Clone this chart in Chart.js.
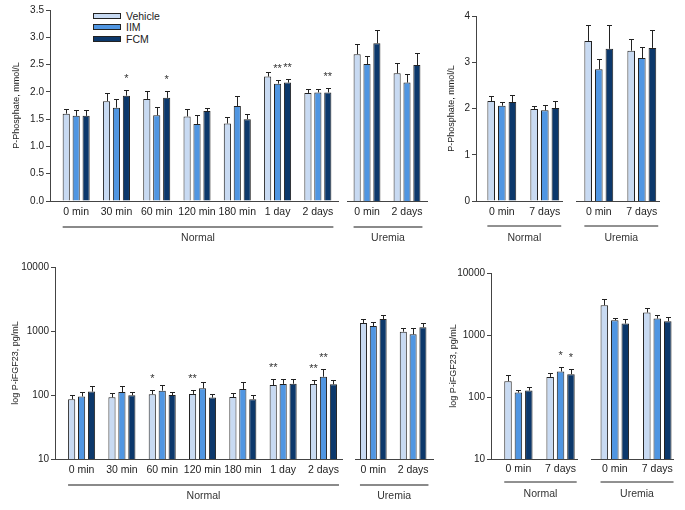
<!DOCTYPE html>
<html>
<head>
<meta charset="utf-8">
<script src="https://cdn.jsdelivr.net/npm/chart.js@4/dist/chart.umd.min.js"></script>
<style>
  body { margin: 0; background: #fff; }
  #fig { position: relative; width: 685px; height: 510px; font-family: "Liberation Sans", Arial, sans-serif; }
  #fig canvas { position: absolute; }
  #legend { position: absolute; left: 93px; top: 10px; font-size: 10.5px; color: #222; }
  #legend div { display: flex; align-items: center; height: 11.5px; }
  #legend span.sw { display: inline-block; width: 26px; height: 4px; border: 1px solid #222; margin-right: 5px; }
</style>
</head>
<body>
<div id="fig">
  <div id="legend"></div>
  <canvas id="aNormal" width="345" height="246" style="left:0;top:0"></canvas>
  <canvas id="aUremia" width="95" height="246" style="left:340px;top:0"></canvas>
  <canvas id="bNormal" width="131" height="246" style="left:436px;top:0"></canvas>
  <canvas id="bUremia" width="95" height="246" style="left:570px;top:0"></canvas>
  <canvas id="cNormal" width="347" height="254" style="left:0;top:250px"></canvas>
  <canvas id="cUremia" width="90" height="254" style="left:348px;top:250px"></canvas>
  <canvas id="dNormal" width="142" height="254" style="left:440px;top:250px"></canvas>
  <canvas id="dUremia" width="99" height="254" style="left:584px;top:250px"></canvas>
</div>
<script>
// series
const seriesNames = ['Vehicle', 'IIM', 'FCM'];
const seriesColors = ['#c8daf2', '#5096e2', '#0c386b'];

// --- A: P-Phosphate, acute study ---
const aNormalLabels = ['0 min', '30 min', '60 min', '120 min', '180 min', '1 day', '2 days'];
const aNormalVehicle = [1.60, 1.83, 1.87, 1.55, 1.42, 2.28, 1.98];
const aNormalVehicleUpper = [1.68, 1.97, 2.02, 1.69, 1.54, 2.37, 2.06];
const aNormalIIM = [1.56, 1.71, 1.57, 1.41, 1.74, 2.15, 1.99];
const aNormalIIMUpper = [1.66, 1.86, 1.72, 1.58, 1.93, 2.22, 2.06];
const aNormalFCM = [1.56, 1.93, 1.89, 1.65, 1.50, 2.17, 1.99];
const aNormalFCMUpper = [1.67, 2.04, 2.01, 1.71, 1.60, 2.24, 2.07];
const aNormalStars = [[2, 1, '*'], [2, 2, '*'], [1, 5, '**'], [2, 5, '**'], [2, 6, '**']];

const aUremiaLabels = ['0 min', '2 days'];
const aUremiaVehicle = [2.69, 2.34];
const aUremiaVehicleUpper = [2.88, 2.53];
const aUremiaIIM = [2.51, 2.17];
const aUremiaIIMUpper = [2.66, 2.33];
const aUremiaFCM = [2.89, 2.49];
const aUremiaFCMUpper = [3.14, 2.72];

// --- B: P-Phosphate, 7 day study ---
const bLabels = ['0 min', '7 days'];
const bNormalVehicle = [2.16, 1.99];
const bNormalVehicleUpper = [2.26, 2.06];
const bNormalIIM = [2.06, 1.96];
const bNormalIIMUpper = [2.15, 2.07];
const bNormalFCM = [2.14, 2.01];
const bNormalFCMUpper = [2.29, 2.17];

const bUremiaVehicle = [3.46, 3.25];
const bUremiaVehicleUpper = [3.81, 3.50];
const bUremiaIIM = [2.85, 3.09];
const bUremiaIIMUpper = [3.06, 3.32];
const bUremiaFCM = [3.29, 3.31];
const bUremiaFCMUpper = [3.81, 3.69];

// --- C: P-iFGF23, acute study ---
const cNormalLabels = ['0 min', '30 min', '60 min', '120 min', '180 min', '1 day', '2 days'];
const cNormalVehicle = [86, 92, 103, 104, 93, 143, 149];
const cNormalVehicleUpper = [100, 109, 120, 120, 106, 180, 170];
const cNormalIIM = [95, 111, 117, 127, 124, 149, 193];
const cNormalIIMUpper = [113, 138, 145, 158, 158, 180, 252];
const cNormalFCM = [113, 99, 100, 91, 86, 150, 147];
const cNormalFCMUpper = [140, 113, 113, 103, 100, 180, 173];
const cNormalStars = [[0, 2, '*'], [0, 3, '**'], [0, 5, '**'], [0, 6, '**'], [1, 6, '**']];

const cUremiaLabels = ['0 min', '2 days'];
const cUremiaVehicle = [1334, 975];
const cUremiaVehicleUpper = [1523, 1102];
const cUremiaIIM = [1197, 887];
const cUremiaIIMUpper = [1367, 1126];
const cUremiaFCM = [1540, 1142];
const cUremiaFCMUpper = [1758, 1334];

// --- D: P-iFGF23, 7 day study ---
const dLabels = ['0 min', '7 days'];
const dNormalVehicle = [180, 211];
const dNormalVehicleUpper = [230, 248];
const dNormalIIM = [118, 258];
const dNormalIIMUpper = [128, 310];
const dNormalFCM = [127, 233];
const dNormalFCMUpper = [147, 281];
const dNormalStars = [[1, 1, '*'], [2, 1, '*']];

const dUremiaVehicle = [3020, 2300];
const dUremiaVehicleUpper = [3740, 2770];
const dUremiaIIM = [1730, 1840];
const dUremiaIIMUpper = [1910, 2080];
const dUremiaFCM = [1530, 1670];
const dUremiaFCMUpper = [1840, 1980];

// y axes
const phosTicksA = [0, 0.5, 1, 1.5, 2, 2.5, 3, 3.5];
const phosTicksB = [0, 1, 2, 3, 4];
const fgfTicks = [10, 100, 1000, 10000];

Chart.defaults.font.family = '"Liberation Sans", Arial, sans-serif';
Chart.defaults.color = '#333';

// legend
document.getElementById('legend').innerHTML = seriesNames.map((n, i) =>
  `<div><span class="sw" style="background:${seriesColors[i]}"></span>${n}</div>`).join('');

// error bars, asterisks and the group line under the x labels
const decor = {
  id: 'decor',
  afterDatasetsDraw(chart, args, o) {
    const {ctx, chartArea} = chart;
    const y = chart.scales.y;
    ctx.save();
    ctx.strokeStyle = '#222';
    ctx.lineWidth = 1;
    o.upper.forEach((arr, di) => {
      chart.getDatasetMeta(di).data.forEach((bar, i) => {
        const x = Math.round(bar.x) + 0.5;
        const yTop = Math.round(y.getPixelForValue(arr[i])) + 0.5;
        ctx.beginPath();
        ctx.moveTo(x, bar.y);
        ctx.lineTo(x, yTop);
        ctx.moveTo(x - 2.5, yTop);
        ctx.lineTo(x + 2.5, yTop);
        ctx.stroke();
      });
    });
    ctx.fillStyle = '#333';
    ctx.font = '11px "Liberation Sans", Arial, sans-serif';
    ctx.textAlign = 'center';
    ctx.textBaseline = 'alphabetic';
    o.stars.forEach(([di, i, s]) => {
      const bar = chart.getDatasetMeta(di).data[i];
      const yTop = y.getPixelForValue(o.upper[di][i]);
      ctx.fillText(s, bar.x, yTop - 8);
    });
    // group underline and name
    const first = chart.getDatasetMeta(0).data[0];
    const lastMeta = chart.getDatasetMeta(chart.data.datasets.length - 1).data;
    const last = lastMeta[lastMeta.length - 1];
    const x0 = first.x - first.width / 2;
    const x1 = last.x + last.width / 2 + 2;
    const yl = chartArea.bottom + o.lineOffset;
    ctx.strokeStyle = o.lineColor;
    ctx.lineWidth = o.lineWidth;
    ctx.beginPath();
    ctx.moveTo(x0, yl);
    ctx.lineTo(x1, yl);
    ctx.stroke();
    ctx.font = '10.5px "Liberation Sans", Arial, sans-serif';
    ctx.textBaseline = 'middle';
    ctx.fillText(o.group, (x0 + x1) / 2, chartArea.bottom + o.labelOffset);
    ctx.restore();
  }
};

function makePanel(id, p) {
  const datasets = p.values.map((vals, k) => ({
    label: seriesNames[k],
    data: vals.map((v, i) => ({x: i, y: v})),
    backgroundColor: seriesColors[k],
    borderColor: '#222',
    borderWidth: 1,
    categoryPercentage: p.catPct || 0.74,
    barPercentage: p.barPct || 0.72
  }));
  return new Chart(document.getElementById(id), {
    type: 'bar',
    data: {datasets},
    plugins: [decor],
    options: {
      responsive: false,
      animation: false,
      events: [],
      layout: {padding: p.padding},
      plugins: {
        legend: {display: false},
        tooltip: {enabled: false},
        decor: {
          upper: p.upper,
          stars: p.stars || [],
          group: p.group,
          lineColor: p.lineColor,
          lineWidth: p.lineWidth,
          lineOffset: p.lineOffset,
          labelOffset: p.labelOffset
        }
      },
      scales: {
        x: {
          type: 'linear',
          min: p.xMin,
          max: p.xMax,
          offset: false,
          bounds: 'data',
          afterBuildTicks: s => { s.ticks = p.labels.map((_, i) => ({value: i})); },
          afterFit: s => { s.height = 45; s.paddingLeft = 0; s.paddingRight = 0; },
          ticks: {
            callback: v => p.labels[v],
            autoSkip: false,
            maxRotation: 0,
            padding: p.xPad,
            color: '#222',
            font: {size: 10.5}
          },
          grid: {display: false, drawTicks: false, offset: false},
          border: {display: true, color: '#444'}
        },
        y: {
          type: p.yType,
          min: p.yMin,
          max: p.yMax,
          display: p.showY,
          afterBuildTicks: s => { s.ticks = p.yTicks.map(v => ({value: v})); },
          afterFit: s => { s.width = p.yWidth; },
          ticks: {callback: p.yFmt, color: '#222', font: {size: 10}, padding: 2},
          grid: {display: true, drawOnChartArea: false, drawTicks: true, tickLength: 4, color: '#444'},
          border: {display: true, color: '#444'},
          title: {
            display: !!p.yTitle,
            text: p.yTitle,
            color: '#222',
            font: {size: 9},
            padding: {top: p.titlePad || 0, bottom: 0}
          }
        }
      }
    }
  });
}

const phosA = {yType: 'linear', yMin: 0, yMax: 3.5, yTicks: phosTicksA, yFmt: v => v.toFixed(1)};
const phosB = {yType: 'linear', yMin: 0, yMax: 4, yTicks: phosTicksB, yFmt: v => String(v)};
const fgf = {yType: 'logarithmic', yMin: 10, yMax: 10000, yTicks: fgfTicks, yFmt: v => String(v)};
const greyLine = {lineColor: '#8a8a8a', lineWidth: 2, lineOffset: 26, labelOffset: 37};
const blackLine = {lineColor: '#222', lineWidth: 1, lineOffset: 25, labelOffset: 37};

makePanel('aNormal', Object.assign({}, phosA, greyLine, {
  labels: aNormalLabels,
  values: [aNormalVehicle, aNormalIIM, aNormalFCM],
  upper: [aNormalVehicleUpper, aNormalIIMUpper, aNormalFCMUpper],
  stars: aNormalStars,
  group: 'Normal',
  xMin: -0.65, xMax: 6.5, xPad: 5,
  showY: true, yWidth: 50, yTitle: 'P-Phosphate, mmol/L', titlePad: 11,
  padding: {left: 0, right: 7, top: 10, bottom: 0}
}));

makePanel('aUremia', Object.assign({}, phosA, greyLine, {
  labels: aUremiaLabels,
  values: [aUremiaVehicle, aUremiaIIM, aUremiaFCM],
  upper: [aUremiaVehicleUpper, aUremiaIIMUpper, aUremiaFCMUpper],
  group: 'Uremia',
  xMin: -0.5, xMax: 1.5, xPad: 5,
  showY: false, yWidth: 0,
  padding: {left: 7, right: 8, top: 10, bottom: 0}
}));

makePanel('bNormal', Object.assign({}, phosB, blackLine, {
  labels: bLabels,
  values: [bNormalVehicle, bNormalIIM, bNormalFCM],
  upper: [bNormalVehicleUpper, bNormalIIMUpper, bNormalFCMUpper],
  group: 'Normal',
  xMin: -0.6, xMax: 1.4, xPad: 5,
  showY: true, yWidth: 40, yTitle: 'P-Phosphate, mmol/L', titlePad: 10,
  padding: {left: 0, right: 5, top: 16, bottom: 0}
}));

makePanel('bUremia', Object.assign({}, phosB, blackLine, {
  labels: bLabels,
  values: [bUremiaVehicle, bUremiaIIM, bUremiaFCM],
  upper: [bUremiaVehicleUpper, bUremiaIIMUpper, bUremiaFCMUpper],
  group: 'Uremia',
  xMin: -0.53, xMax: 1.4, xPad: 5,
  showY: false, yWidth: 0,
  padding: {left: 6, right: 6, top: 16, bottom: 0}
}));

makePanel('cNormal', Object.assign({}, fgf, greyLine, {
  labels: cNormalLabels,
  values: [cNormalVehicle, cNormalIIM, cNormalFCM],
  upper: [cNormalVehicleUpper, cNormalIIMUpper, cNormalFCMUpper],
  stars: cNormalStars,
  group: 'Normal',
  xMin: -0.66, xMax: 6.46, xPad: 5,
  showY: true, yWidth: 55, yTitle: 'log P-iFGF23, pg/mL', titlePad: 10,
  padding: {left: 0, right: 5, top: 17, bottom: 0}
}));

makePanel('cUremia', Object.assign({}, fgf, greyLine, {
  labels: cUremiaLabels,
  values: [cUremiaVehicle, cUremiaIIM, cUremiaFCM],
  upper: [cUremiaVehicleUpper, cUremiaIIMUpper, cUremiaFCMUpper],
  group: 'Uremia',
  xMin: -0.46, xMax: 1.5, xPad: 5,
  showY: false, yWidth: 0,
  padding: {left: 7, right: 5, top: 17, bottom: 0}
}));

makePanel('dNormal', Object.assign({}, fgf, blackLine, {
  labels: dLabels,
  values: [dNormalVehicle, dNormalIIM, dNormalFCM],
  upper: [dNormalVehicleUpper, dNormalIIMUpper, dNormalFCMUpper],
  stars: dNormalStars,
  group: 'Normal',
  xMin: -0.65, xMax: 1.39, xPad: 4,
  lineOffset: 23, labelOffset: 35,
  showY: true, yWidth: 51, yTitle: 'log P-iFGF23, pg/mL', titlePad: 8,
  padding: {left: 0, right: 5, top: 23, bottom: 0}
}));

makePanel('dUremia', Object.assign({}, fgf, blackLine, {
  labels: dLabels,
  values: [dUremiaVehicle, dUremiaIIM, dUremiaFCM],
  upper: [dUremiaVehicleUpper, dUremiaIIMUpper, dUremiaFCMUpper],
  group: 'Uremia',
  xMin: -0.56, xMax: 1.37, xPad: 4,
  lineOffset: 23, labelOffset: 35,
  showY: false, yWidth: 0,
  padding: {left: 7, right: 10, top: 23, bottom: 0}
}));
</script>
</body>
</html>
